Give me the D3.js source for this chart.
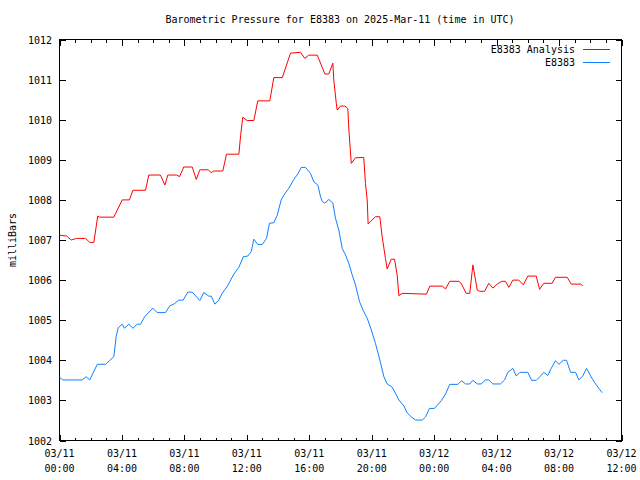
<!DOCTYPE html>
<html><head><meta charset="utf-8">
<script src="https://cdn.jsdelivr.net/npm/d3@7"></script>
<style>
html,body{margin:0;padding:0;background:#fff;}
svg{display:block;font-family:"DejaVu Sans Mono","Liberation Mono",monospace;font-size:10px;}
</style></head>
<body>
<svg id="chart" width="640" height="480"></svg>
<script>
const title = "Barometric Pressure for E8383 on 2025-Mar-11 (time in UTC)";
const yLabel = "milliBars";
const seriesNames = ["E8383 Analysis", "E8383"];
const seriesColors = ["#ff0000", "#0f80ff"];
const yTicks = [1002,1003,1004,1005,1006,1007,1008,1009,1010,1011,1012];
const startUTC = Date.UTC(2025, 2, 11, 0, 0);
const endUTC = Date.UTC(2025, 2, 12, 12, 0);

// hours since 2025-03-11 00:00 UTC
const analysisHours = [0.0,0.45,0.75,1.09,1.67,1.94,2.2,2.45,2.56,3.48,4.02,4.48,4.7,5.51,5.72,6.47,6.75,6.94,7.5,7.69,7.96,8.5,8.76,8.99,9.53,9.72,9.88,10.46,10.7,11.49,11.6,11.74,12.02,12.45,12.7,13.47,13.73,14.27,14.8,15.44,15.71,15.97,16.51,17.0,17.25,17.51,17.57,17.73,17.79,18.0,18.28,18.47,18.53,18.69,18.96,19.49,19.6,19.71,19.77,20.24,20.52,20.67,20.88,20.99,21.25,21.46,21.63,21.74,21.95,23.51,23.72,24.52,24.73,25.0,25.58,25.73,26.05,26.28,26.48,26.54,26.76,26.92,27.23,27.5,27.76,28.04,28.32,28.57,28.78,29.04,29.42,29.71,30.0,30.54,30.75,31.02,31.56,31.77,32.52,32.78,33.38,33.52];
const analysisValues = [1007.12,1007.1,1007.0,1007.04,1007.04,1006.94,1006.94,1007.6,1007.57,1007.57,1008.0,1008.0,1008.24,1008.24,1008.62,1008.62,1008.37,1008.62,1008.62,1008.58,1008.82,1008.82,1008.51,1008.75,1008.75,1008.68,1008.72,1008.72,1009.14,1009.14,1009.6,1010.06,1009.98,1009.98,1010.47,1010.47,1011.05,1011.05,1011.66,1011.68,1011.53,1011.61,1011.61,1011.14,1011.14,1011.41,1010.99,1010.41,1010.24,1010.34,1010.34,1010.28,1009.79,1008.91,1009.05,1009.06,1008.41,1008.0,1007.4,1007.58,1007.58,1007.08,1006.54,1006.28,1006.52,1006.52,1006.13,1005.61,1005.67,1005.65,1005.85,1005.85,1005.78,1005.97,1005.97,1005.92,1005.67,1005.67,1006.38,1006.25,1005.75,1005.72,1005.72,1005.92,1005.8,1005.9,1005.97,1005.97,1005.82,1006.0,1006.0,1005.88,1006.1,1006.1,1005.77,1005.92,1005.92,1006.07,1006.07,1005.9,1005.9,1005.86];

const stationHours = [0,0.21,1.45,1.71,1.94,2.42,2.95,3.48,3.63,3.76,4.02,4.16,4.44,4.7,4.98,5.19,5.46,5.98,6.26,6.79,7.07,7.32,7.64,7.92,8.22,8.5,8.99,9.24,9.56,9.72,9.95,10.2,10.42,10.74,11.17,11.49,11.77,12.06,12.28,12.45,12.7,12.99,13.26,13.45,13.73,13.95,14.2,14.37,14.69,15.01,15.27,15.48,15.76,16.08,16.29,16.55,16.72,16.83,17.0,17.25,17.51,17.68,17.89,18.11,18.32,18.53,18.75,18.96,19.22,19.49,19.71,19.97,20.24,20.52,20.78,20.99,21.31,21.52,21.74,22.06,22.27,22.53,22.81,23.24,23.45,23.7,24.02,24.45,24.73,25.0,25.52,25.75,26.01,26.28,26.48,26.76,27.01,27.29,27.5,27.76,28.25,28.51,28.72,29.04,29.26,29.49,30.0,30.24,30.54,30.77,31.02,31.28,31.5,31.77,31.99,32.27,32.48,32.74,33.06,33.27,33.52,33.76,34.02,34.27,34.55,34.76];
const stationValues = [1003.58,1003.51,1003.51,1003.59,1003.51,1003.9,1003.9,1004.09,1004.59,1004.81,1004.9,1004.8,1004.9,1004.8,1004.9,1004.9,1005.09,1005.3,1005.19,1005.19,1005.36,1005.4,1005.5,1005.5,1005.7,1005.7,1005.49,1005.69,1005.6,1005.6,1005.4,1005.5,1005.67,1005.84,1006.15,1006.32,1006.58,1006.6,1006.71,1007.02,1006.89,1006.89,1007.04,1007.42,1007.43,1007.62,1008.0,1008.12,1008.29,1008.51,1008.65,1008.81,1008.81,1008.66,1008.45,1008.37,1008.08,1007.96,1007.92,1008.01,1007.92,1007.54,1007.25,1006.79,1006.63,1006.42,1006.13,1005.88,1005.46,1005.21,1005.05,1004.76,1004.42,1004.01,1003.59,1003.41,1003.33,1003.18,1003.01,1002.86,1002.69,1002.59,1002.51,1002.51,1002.59,1002.8,1002.8,1002.99,1003.16,1003.4,1003.4,1003.49,1003.41,1003.41,1003.5,1003.41,1003.41,1003.51,1003.51,1003.41,1003.41,1003.51,1003.7,1003.8,1003.61,1003.7,1003.7,1003.5,1003.5,1003.59,1003.7,1003.62,1003.8,1003.99,1003.9,1004.0,1004.0,1003.7,1003.7,1003.51,1003.61,1003.8,1003.61,1003.45,1003.3,1003.19];

const svg = d3.select("#chart");
const L = 59.5, R = 621.5, T = 39.5, B = 440.5;

const x = d3.scaleUtc().domain([new Date(startUTC), new Date(endUTC)]).range([L, R]);
const y = d3.scaleLinear().domain([1002, 1012]).range([B, T]);

const toDate = h => new Date(startUTC + h * 3600000);
const series = [
  {name: seriesNames[0], color: seriesColors[0], pts: analysisHours.map((h,i)=>[toDate(h), analysisValues[i]])},
  {name: seriesNames[1], color: seriesColors[1], pts: stationHours.map((h,i)=>[toDate(h), stationValues[i]])}
];

// Title
svg.append("text").attr("x", 340).attr("y", 23).attr("text-anchor","middle").text(title);
// Y label
svg.append("text").attr("transform","translate(16,240) rotate(-90)").attr("text-anchor","middle").text(yLabel);

const g = svg.append("g").attr("shape-rendering","crispEdges").attr("stroke","#000").attr("fill","none");

// Y ticks (left, inward) and mirror (right)
const yAxisL = d3.axisRight(y).tickValues(yTicks).tickSize(6).tickFormat("");
const yAxisR = d3.axisLeft(y).tickValues(yTicks).tickSize(6).tickFormat("");
svg.append("g").attr("transform",`translate(${L},0)`).call(yAxisL).call(s=>s.select(".domain").remove());
svg.append("g").attr("transform",`translate(${R},0)`).call(yAxisR).call(s=>s.select(".domain").remove());
// y tick labels
svg.append("g").selectAll("text").data(yTicks).join("text")
  .attr("x", 52).attr("y", d=>y(d)+4).attr("text-anchor","end").text(d=>d);

// X ticks
const majorTicks = x.ticks(d3.utcHour.every(4));
const minorTicks = x.ticks(d3.utcHour.every(1));
const xb = d3.axisTop(x).tickValues(minorTicks).tickSize(3).tickFormat("");
const xbM = d3.axisTop(x).tickValues(majorTicks).tickSize(6).tickFormat("");
const xt = d3.axisBottom(x).tickValues(minorTicks).tickSize(3).tickFormat("");
const xtM = d3.axisBottom(x).tickValues(majorTicks).tickSize(6).tickFormat("");
[[xb,B],[xbM,B],[xt,T],[xtM,T]].forEach(([ax,pos])=>{
  svg.append("g").attr("transform",`translate(0,${pos})`).call(ax).call(s=>s.select(".domain").remove());
});
svg.selectAll(".tick line").attr("stroke","#000").attr("shape-rendering","crispEdges");

// x tick labels (two lines)
const fDay = d3.utcFormat("%m/%d"), fTime = d3.utcFormat("%H:%M");
const xl = svg.append("g").selectAll("text").data(majorTicks).join("text")
  .attr("text-anchor","middle");
xl.append("tspan").attr("x", d=>x(d)).attr("y", 457).text(d=>fDay(d));
xl.append("tspan").attr("x", d=>x(d)).attr("y", 472).text(d=>fTime(d));

// Frame
g.append("rect").attr("x",L).attr("y",T).attr("width",R-L).attr("height",B-T).attr("stroke-width",1);

// Lines
const line = d3.line().x(d=>x(d[0])).y(d=>y(d[1]));
series.forEach(s=>{
  svg.append("path").datum(s.pts).attr("d", line).attr("fill","none")
    .attr("stroke", s.color).attr("stroke-width",1).attr("stroke-linejoin","round");
});

// Legend
const leg = svg.append("g");
series.forEach((s,i)=>{
  const ly = 49 + i*13;
  leg.append("text").attr("x", 575).attr("y", ly+4).attr("text-anchor","end").text(s.name);
  leg.append("line").attr("x1",583).attr("x2",610).attr("y1",ly+0.5).attr("y2",ly+0.5)
    .attr("stroke", s.color).attr("stroke-width",1).attr("shape-rendering","crispEdges");
});
</script>
</body></html>
